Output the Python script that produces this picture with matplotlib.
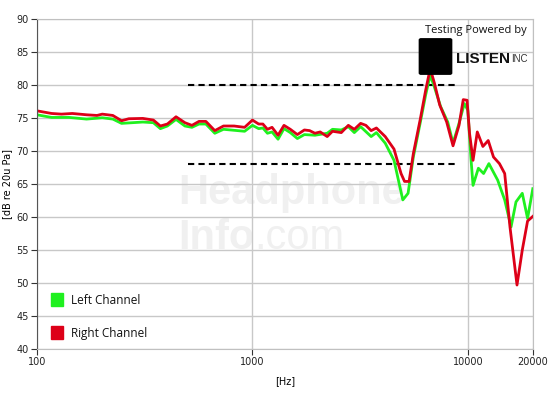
import matplotlib
matplotlib.use("Agg")
from matplotlib import pyplot as plt
from matplotlib.patches import FancyBboxPatch, Rectangle

# frequencies (Hz) and levels (dB)
freq_right = [100, 117, 130, 146, 170, 190, 201, 225, 247, 267, 310, 347, 374, 403,
              442, 486, 524, 565, 608, 669, 734, 822, 920, 1000, 1069, 1118, 1174,
              1233, 1315, 1401, 1499, 1616, 1742, 1843, 1950, 2063, 2223, 2352, 2584,
              2786, 2970, 3177, 3361, 3555, 3761, 4132, 4539, 4893, 5080, 5333, 5579,
              6015, 6364, 6682, 6989, 7394, 7969, 8527, 9091, 9510, 9910, 10170, 10560,
              11050, 11730, 12420, 13140, 14000, 14810, 15670, 16890, 17870, 18910, 20000]
right_db = [76.1, 75.7, 75.6, 75.7, 75.5, 75.4, 75.6, 75.4, 74.6, 74.9, 74.95, 74.7, 73.8, 74.1,
            75.2, 74.3, 73.9, 74.5, 74.5, 73.1, 73.8, 73.8, 73.6, 74.7, 74.1, 74.1, 73.3,
            73.6, 72.4, 73.9, 73.3, 72.5, 73.2, 73.1, 72.7, 72.9, 72.2, 73.0, 72.8,
            73.9, 73.3, 74.2, 73.9, 73.1, 73.5, 72.2, 70.3, 66.6, 65.4, 65.4, 69.6,
            74.9, 79.2, 82.5, 80.3, 77.0, 74.4, 70.8, 73.9, 77.8, 77.7, 72.7, 68.6,
            72.9, 70.7, 71.6, 69.1, 68.1, 66.6, 58.5, 49.7, 55.0, 59.4, 60.1]

freq_left = [100, 117, 141, 170, 201, 225, 247, 310, 347, 374, 403, 442, 486, 524,
             565, 608, 669, 734, 920, 1000, 1069, 1118, 1174, 1233, 1315, 1401, 1499,
             1616, 1742, 1950, 2223, 2352, 2584, 2786, 2970, 3177, 3555, 3761, 4132,
             4539, 4986, 5274, 5579, 6015, 6364, 6682, 6989, 7478, 8059, 8527, 9091,
             9620, 9985, 10370, 10560, 11180, 11820, 12510, 13740, 14810, 15850, 16710,
             17870, 18910, 20000]
left_db = [75.5, 75.1, 75.1, 74.85, 75.05, 74.85, 74.2, 74.4, 74.3, 73.4, 73.8, 74.8, 73.8, 73.6,
           74.1, 74.1, 72.7, 73.3, 73.0, 73.9, 73.4, 73.5, 72.7, 72.9, 71.8, 73.4, 72.8,
           71.9, 72.5, 72.4, 72.7, 73.3, 73.2, 73.7, 72.8, 73.7, 72.2, 72.8, 71.2,
           68.6, 62.6, 63.6, 69.1, 74.4, 78.5, 81.5, 79.7, 76.7, 74.4, 71.2, 74.2,
           77.2, 76.2, 68.1, 64.8, 67.4, 66.6, 68.1, 65.6, 62.6, 58.5, 62.3,
           63.6, 59.8, 64.3]

target_freq = [500, 9000]
target_upper = [80, 80]
target_lower = [68, 68]

xticks = [100, 1000, 10000, 20000]
xlabels = ["100", "1000", "10000", "20000"]
yticks = list(range(40, 91, 5))

fig = plt.figure(figsize=(5.51, 3.98), dpi=100)
ax = fig.add_axes([0.067, 0.123, 0.9, 0.829])

ax.set_xscale("log")
ax.set_xlim(100, 20000)
ax.set_ylim(40, 90)
ax.set_xticks(xticks)
ax.set_xticklabels(xlabels)
ax.minorticks_off()
ax.set_yticks(yticks)
ax.grid(True, color="#c8c8c8", linewidth=1.0)
ax.set_axisbelow(True)
ax.tick_params(labelsize=7, length=4, color="#333333", labelcolor="#222222", pad=2)
for side in ["top", "right", "bottom"]:
    ax.spines[side].set_color("#c0c0c0")
ax.spines["left"].set_color("#555555")

# watermark
ax.text(0.284, 0.44, "Headphone", transform=ax.transAxes, fontsize=30, fontweight="bold",
        family="Liberation Sans", color="#f0f0f0", zorder=0)
info = ax.text(0.284, 0.275, "Info", transform=ax.transAxes, fontsize=30, fontweight="bold",
               family="Liberation Sans", color="#f0f0f0", zorder=0, va="bottom")
ax.annotate(".com", xy=(1, 0), xycoords=info, fontsize=30, va="bottom",
            family="Liberation Sans", color="#f0f0f0", zorder=0)

ax.plot(target_freq, target_upper, color="black", linestyle=(0, (3, 2)), linewidth=1.5)
ax.plot(target_freq, target_lower, color="black", linestyle=(0, (3, 2)), linewidth=1.5)

ax.plot(freq_left, left_db, color="#1ff01f", linewidth=2.0)
ax.plot(freq_right, right_db, color="#dd0018", linewidth=2.0)

ax.set_xlabel("[Hz]", fontsize=7, labelpad=6)
ax.set_ylabel("[dB re 20u Pa]", fontsize=7, labelpad=3)

# legend
fig.patches.append(Rectangle((51 / 551, 1 - 306 / 398), 12 / 551, 13 / 398,
                             transform=fig.transFigure, color="#1ff01f"))
fig.patches.append(Rectangle((51 / 551, 1 - 339 / 398), 12 / 551, 13 / 398,
                             transform=fig.transFigure, color="#dd0018"))
fig.text(71 / 551, 1 - 300 / 398, "Left Channel", fontsize=8.5, va="center",
         family="Open Sans", color="#111111")
fig.text(71 / 551, 1 - 333 / 398, "Right Channel", fontsize=8.5, va="center",
         family="Open Sans", color="#111111")

# logo
fig.text(476 / 551, 1 - 30 / 398, "Testing Powered by", fontsize=8, ha="center",
         va="center", family="Open Sans", color="#111111")
fig.patches.append(FancyBboxPatch((421 / 551, 1 - 73 / 398), 29 / 551, 33 / 398,
                                  boxstyle="round,pad=0.003", transform=fig.transFigure,
                                  color="black"))
listen = fig.text(456 / 551, 1 - 63 / 398, "LISTEN", fontsize=11, va="baseline",
                  fontweight="bold", family="Liberation Sans", color="#111111")
ax.annotate("INC", xy=(1, 0), xycoords=listen, xytext=(1, 1.5),
            textcoords="offset points", fontsize=7, va="bottom",
            family="Liberation Sans", color="#333333", annotation_clip=False)

fig.savefig("out.png", dpi=100)
